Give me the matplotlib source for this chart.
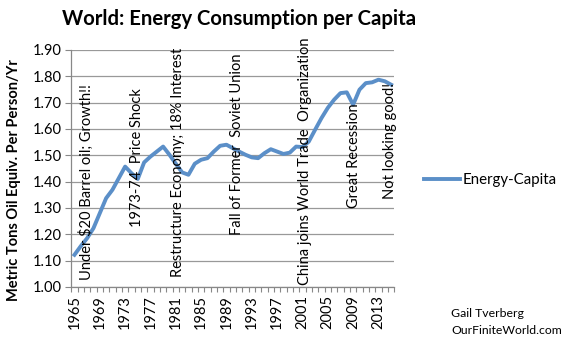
import matplotlib
matplotlib.use('Agg')
from matplotlib import pyplot as plt
import numpy as np

plt.rcParams['font.family'] = ['Lato', 'DejaVu Sans']

years = list(range(1965, 2016))
energy_per_capita = [1.122, 1.155, 1.185, 1.223, 1.280, 1.337, 1.369, 1.413, 1.457, 1.432,
                     1.410, 1.473, 1.495, 1.514, 1.533, 1.502, 1.468, 1.435, 1.426, 1.468,
                     1.483, 1.489, 1.514, 1.536, 1.540, 1.527, 1.514, 1.502, 1.492, 1.489,
                     1.508, 1.523, 1.514, 1.505, 1.510, 1.533, 1.531, 1.552, 1.597, 1.641,
                     1.680, 1.711, 1.736, 1.739, 1.692, 1.749, 1.774, 1.777, 1.787, 1.781,
                     1.768]

notes = ['Under \\$20 Barrel oil; Growth!!', '1973-74  Price Shock',
         'Restructure Economy; 18% Interest', 'Fall of Former  Soviet Union',
         'China joins World Trade  Organization', 'Great Recession', 'Not looking good!']
note_years = [1966.8, 1974.9, 1981.4, 1990.6, 2001.4, 2009.1, 2014.9]
note_bottoms = [1.027, 1.229, 1.039, 1.198, 1.008, 1.299, 1.333]

x = np.arange(len(years))

fig = plt.figure(figsize=(5.64, 3.42), dpi=100)
ax = fig.add_axes([0.1264, 0.161, 0.5727, 0.693])

ax.plot(x, energy_per_capita, color='#5b8fc8', linewidth=2.8, solid_joinstyle='round',
        label='Energy-Capita', zorder=3)

for txt, yr, b in zip(notes, note_years, note_bottoms):
    ax.text(yr - 1965, b, txt, rotation=90, ha='center', va='bottom', fontsize=10.5,
            color='black', zorder=4)

ax.set_xlim(-0.5, len(years) - 0.5)
ax.set_ylim(1.0, 1.9)
ax.set_yticks(np.arange(1.0, 1.91, 0.1))
ax.set_yticklabels(['%.2f' % v for v in np.arange(1.0, 1.91, 0.1)], fontsize=10.5)
ax.set_xticks(x[::4])
ax.set_xticklabels([str(y) for y in years[::4]], rotation=90, fontsize=10.5)
ax.set_xticks(np.arange(-0.5, len(years), 1), minor=True)
ax.tick_params(axis='x', which='major', length=0, pad=6)
ax.tick_params(axis='x', which='minor', length=3.5, color='#888888', width=0.8)
ax.tick_params(axis='y', length=4, color='#888888', width=0.8, pad=3)

ax.grid(axis='y', color='#999999', linewidth=0.9)
ax.set_axisbelow(True)
for s in ['top', 'right']:
    ax.spines[s].set_visible(False)
for s in ['left', 'bottom']:
    ax.spines[s].set_color('#888888')
    ax.spines[s].set_linewidth(0.9)

ax.set_ylabel('Metric Tons Oil Equiv. Per Person/Yr', fontsize=10.5, fontweight='bold')
ax.yaxis.set_label_coords(-0.155, 0.45)

fig.text(0.424, 0.945, 'World: Energy Consumption per Capita', ha='center', va='center',
         fontsize=14.6, fontweight='bold')

ax.legend(loc='center left', bbox_to_anchor=(1.05, 0.45), frameon=False, fontsize=10.8,
          handlelength=2.4, handletextpad=0.2)

fig.text(0.800, 0.083, 'Gail Tverberg', fontsize=8.8, va='center')
fig.text(0.800, 0.034, 'OurFiniteWorld.com', fontsize=8.8, va='center')

fig.savefig('out.png', dpi=100)
